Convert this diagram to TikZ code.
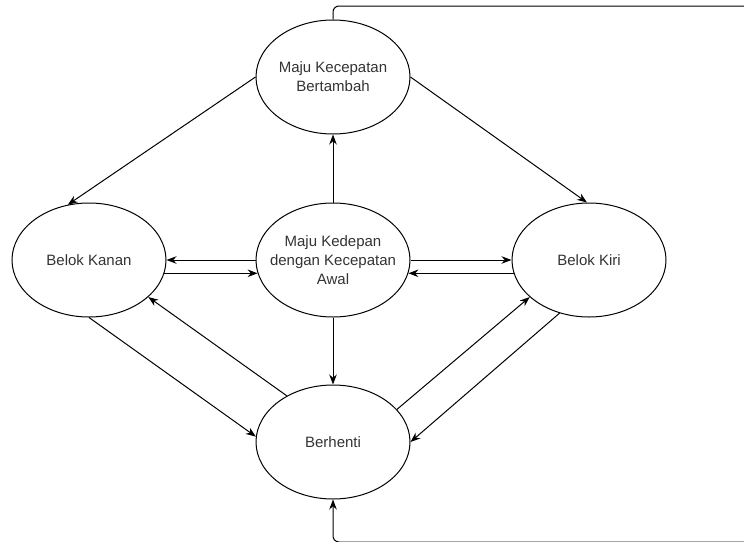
\documentclass[tikz,border=0pt]{standalone}
\usepackage{fontspec}
\setmainfont{Liberation Sans}
\usepackage{tikz}
\usetikzlibrary{arrows.meta,shapes.geometric}

\begin{document}
\begin{tikzpicture}[x=1pt,y=-1pt,
		state/.style={ellipse,draw,line width=1pt,minimum width=154pt,minimum height=114pt,inner sep=0pt},
		lbl/.style={align=center,font=\fontsize{15}{19}\selectfont,text=black!80},
		e/.style={-{Stealth[length=10pt,width=7.5pt]},line width=1pt}
		]
		\clip (0,0) rectangle (744,541);
		\node[state,label={[lbl]center:Maju Kecepatan\\Bertambah}] (top) at (333,77) {};
		\node[state,label={[lbl]center:Belok Kanan}] (kanan) at (89,260) {};
		\node[state,label={[lbl]center:Maju Kedepan\\dengan Kecepatan\\Awal}] (mid) at (333,260) {};
		\node[state,label={[lbl]center:Belok Kiri}] (kiri) at (589,260) {};
		\node[state,label={[lbl]center:Berhenti}] (stop) at (333,442) {};
		\coordinate (loopTR) at (760,6);
		\coordinate (loopBR) at (760,542);
		% dari tengah
		\draw[e] (mid) -- (top);
		\draw[e] (mid) -- (stop);
		\draw[e] (mid.west) -- (kanan.east);
		\draw[e] (kanan.-10.6) -- (mid.190.6);
		\draw[e] (mid.east) -- (kiri.west);
		\draw[e] (kiri.190.6) -- (mid.-10.6);
		% dari atas
		\draw[e] (top.180) -- (kanan.111);
		\draw[e] (top.0) -- (kiri.92);
		% belok dan berhenti
		\draw[e] (kanan.south) -- (stop.176);
		\draw[e] (stop.135.6) -- (kanan.-32);
		\draw[e] (stop.27) -- (kiri.212);
		\draw[e] (kiri.241) -- (stop.east);
		\draw[e,rounded corners=6pt] (top.north) |- (loopTR) -- (loopBR) -| (stop.south);
	\end{tikzpicture}
\end{document}
